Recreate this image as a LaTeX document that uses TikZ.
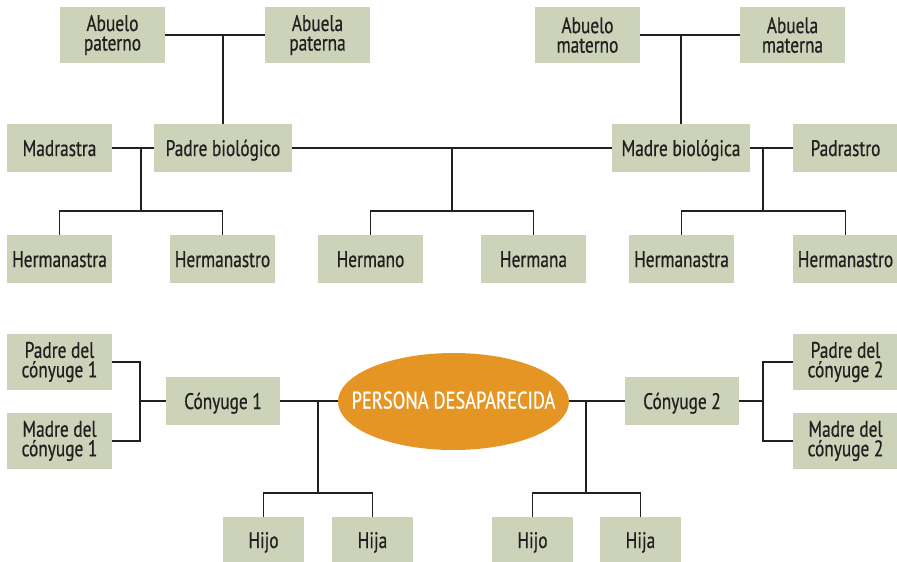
\documentclass[tikz,border=0pt]{standalone}
\usepackage{fontspec}
\setmainfont{PT Sans}[FakeStretch=0.77,FakeBold=0.6]
\usetikzlibrary{shapes.geometric}
\definecolor{sage}{RGB}{204,211,185}
\definecolor{orng}{RGB}{229,149,36}
\definecolor{ink}{RGB}{35,31,32}
\tikzset{
  box/.style={fill=sage, draw=none, inner sep=0pt, minimum width=105pt, minimum height=48pt,
    align=center, font=\fontsize{22.5}{19.5}\selectfont, text=ink},
  one/.style={text height=16pt, text depth=0pt},
  tall/.style={minimum height=56pt},
  link/.style={draw=ink, line width=1.3pt},
}
\begin{document}
\begin{tikzpicture}[x=1pt,y=-1pt]
\useasboundingbox (0,0) rectangle (897,562);
% top row
\node[box,tall] (ap) at (112.5,35) {Abuelo\\paterno};
\node[box,tall] (bp) at (317.5,35) {Abuela\\paterna};
\node[box,tall] (am) at (587.5,35) {Abuelo\\materno};
\node[box,tall] (bm) at (792.5,35) {Abuela\\materna};
% parents row
\node[box,one] (madrastra) at (59.5,148) {Madrastra};
\node[box,one,minimum width=138pt] (padre) at (223,148) {Padre biológico};
\node[box,one,minimum width=138pt] (madre) at (681,148) {Madre biológica};
\node[box,one] (padrastro) at (845.5,148) {Padrastro};
% siblings row
\node[box,one] (hl1) at (59.5,259) {Hermanastra};
\node[box,one] (hl2) at (222.5,259) {Hermanastro};
\node[box,one] (hermano) at (370.5,259) {Hermano};
\node[box,one] (hermana) at (533.5,259) {Hermana};
\node[box,one] (hr1) at (681.5,259) {Hermanastra};
\node[box,one] (hr2) at (845.5,259) {Hermanastro};
% bottom
\node[box,tall] (pc1) at (59.5,362) {Padre del\\cónyuge 1};
\node[box,tall] (mc1) at (59.5,441) {Madre del\\cónyuge 1};
\node[box,one,minimum width=114pt] (c1) at (223,401) {Cónyuge 1};
\node[ellipse, fill=orng, inner sep=0pt, minimum width=231pt, minimum height=97pt,
  text=white, font=\fontsize{24}{20}\selectfont] (pers) at (453.5,401.5)
  {\makebox[0pt]{\raisebox{3pt}{PERSONA DESAPARECIDA}}};
\node[box,one,minimum width=114pt] (c2) at (682,401) {Cónyuge 2};
\node[box,tall] (pc2) at (845.5,362) {Padre del\\cónyuge 2};
\node[box,tall] (mc2) at (845.5,441) {Madre del\\cónyuge 2};
\node[box,one,minimum width=81pt,minimum height=46pt] (hijo1) at (263.5,540) {Hijo};
\node[box,one,minimum width=81pt,minimum height=46pt] (hija1) at (372.5,540) {Hija};
\node[box,one,minimum width=81pt,minimum height=46pt] (hijo2) at (532.5,540) {Hijo};
\node[box,one,minimum width=81pt,minimum height=46pt] (hija2) at (640.5,540) {Hija};
% junction coordinates
\coordinate (k1) at (141,211);
\coordinate (k2) at (452,211);
\coordinate (k3) at (763,211);
\coordinate (b1) at (140,401);
\coordinate (b2) at (763,401);
\coordinate (k4) at (318,493);
\coordinate (k5) at (586,493);
% connectors
\draw[link] (ap.east) -- (bp.west);
\draw[link] (padre.north) -- (padre.north |- ap.east);
\draw[link] (am.east) -- (bm.west);
\draw[link] (madre.north) -- (madre.north |- am.east);
\draw[link] (madrastra.east) -- (padre.west);
\draw[link] (padre.east) -- (madre.west);
\draw[link] (madre.east) -- (padrastro.west);
\draw[link] (hl1.north) |- (k1) -| (hl2.north);
\draw[link] (k1) -- (k1 |- madrastra.east);
\draw[link] (hermano.north) |- (k2) -| (hermana.north);
\draw[link] (k2) -- (k2 |- padre.east);
\draw[link] (hr1.north) |- (k3) -| (hr2.north);
\draw[link] (k3) -- (k3 |- madre.east);
\draw[link] (pc1.east) -| (b1) |- (mc1.east);
\draw[link] (b1) -- (c1.west);
\draw[link] (c1.east) -- (c1.east -| pers.west);
\draw[link] (hijo1.north) |- (k4) -| (hija1.north);
\draw[link] (k4) -- (k4 |- c1.east);
\draw[link] (pers.east |- c2.west) -- (c2.west);
\draw[link] (hijo2.north) |- (k5) -| (hija2.north);
\draw[link] (k5) -- (k5 |- c2.west);
\draw[link] (c2.east) -- (b2);
\draw[link] (pc2.west) -| (b2) |- (mc2.west);
\end{tikzpicture}
\end{document}
